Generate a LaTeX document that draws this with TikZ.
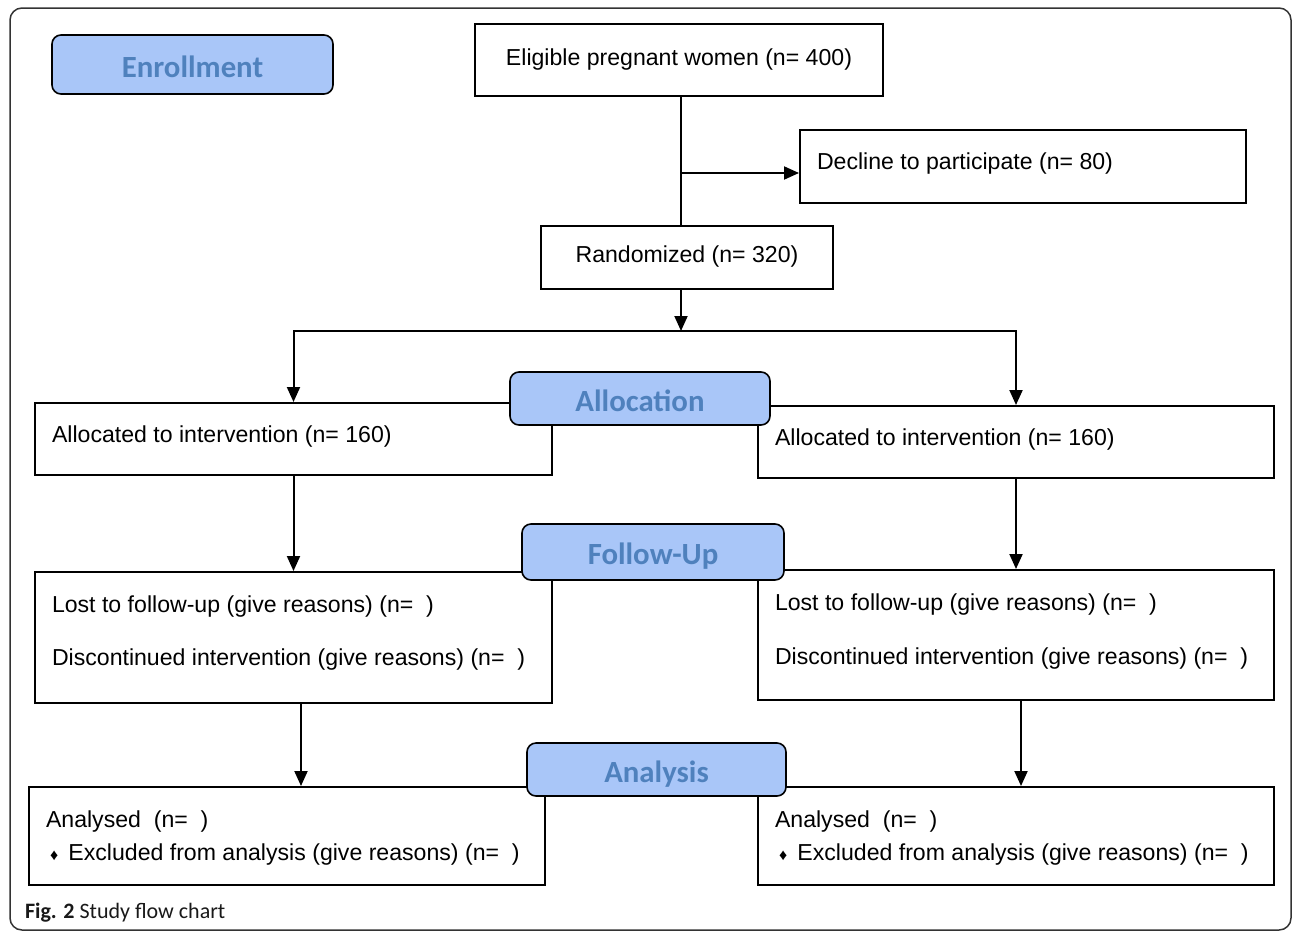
\documentclass[tikz,border=0pt]{standalone}
\usepackage{fontspec}
\setmainfont{Liberation Sans}
\newfontfamily\calibrifont{Carlito}
\usetikzlibrary{arrows.meta}
\definecolor{labfill}{RGB}{169,198,248}
\definecolor{labtext}{RGB}{79,129,189}

\begin{document}
\begin{tikzpicture}[x=1pt, y=-1pt, line width=2pt,
  box/.style={draw, line width=2pt, inner sep=0pt, font=\fontsize{23.1}{27}\selectfont},
  txt/.style={anchor=west, inner sep=0pt, font=\fontsize{23.1}{27}\selectfont},
  stage/.style={draw, line width=1.6pt, rounded corners=9pt, fill=labfill, inner sep=0pt,
    text height=25pt, text depth=0pt,
    text=labtext, font=\calibrifont\bfseries\fontsize{30.8}{34}\selectfont},
  arr/.style={-{Triangle[length=15pt, width=13pt]}}]
\useasboundingbox (0,0) rectangle (1292,932);
\draw [line width=1.5pt, black!80, rounded corners=12pt] (10,8) rectangle (1291,930);

% enrollment
\node (elig) [box, minimum width=408pt, minimum height=72pt] at (679,60) {Eligible pregnant women (n= 400)};
\node (decl) [box, minimum width=446pt, minimum height=73pt] at (1023,166.5) {};
\node (decltxt) [txt] at (816,163.5) {Decline to participate (n= 80)};
\node (rand) [box, minimum width=292pt, minimum height=63pt] at (687,257) {Randomized (n= 320)};
\coordinate (split) at (681,173);
\coordinate (fork) at (681,331);
\draw (split |- elig.south) -- (split |- rand.north);
\draw [arr] (split) -- (split -| decl.west);
\draw [arr] (split |- rand.south) -- (fork);

% allocation
\node (allocL) [box, minimum width=517pt, minimum height=72pt] at (293.5,439) {};
\node (allocLtxt) [txt] at (51,436.5) {Allocated to intervention (n= 160)};
\node (allocR) [box, minimum width=516pt, minimum height=72pt] at (1016,442) {};
\node (allocRtxt) [txt] at (774,439.5) {Allocated to intervention (n= 160)};
\draw [arr] (fork) -| (allocL.north);
\draw [arr] (fork) -| (allocR.north);

% follow-up
\node (fuL) [box, minimum width=517pt, minimum height=131pt] at (293.5,637.5) {};
\node (fuLtxt1) [txt] at (51,606.5) {Lost to follow-up (give reasons) (n=~ )};
\node (fuLtxt2) [txt] at (51,659.5) {Discontinued intervention (give reasons) (n=~ )};
\node (fuR) [box, minimum width=516pt, minimum height=130pt] at (1016,635) {};
\node (fuRtxt1) [txt] at (774,604.5) {Lost to follow-up (give reasons) (n=~ )};
\node (fuRtxt2) [txt] at (774,658.5) {Discontinued intervention (give reasons) (n=~ )};
\draw [arr] (allocL.south) -- (fuL.north);
\draw [arr] (allocR.south) -- (fuR.north);

% analysis
\node (anL) [box, minimum width=516pt, minimum height=98pt] at (287,836) {};
\node (anLtxt1) [txt] at (45,821.5) {Analysed~ (n=~ )};
\node (anLtxt2) [txt] at (49,854.5) {{\fontsize{16}{16}\selectfont ♦}\, Excluded from analysis (give reasons) (n=~ )};
\node (anR) [box, minimum width=516pt, minimum height=98pt] at (1016,836) {};
\node (anRtxt1) [txt] at (774,821.5) {Analysed~ (n=~ )};
\node (anRtxt2) [txt] at (778,854.5) {{\fontsize{16}{16}\selectfont ♦}\, Excluded from analysis (give reasons) (n=~ )};
\draw [arr] ([xshift=7.5pt]fuL.south) -- ([xshift=7.5pt]fuL.south |- anL.north);
\draw [arr] ([xshift=5pt]fuR.south) -- ([xshift=5pt]fuR.south |- anR.north);

% stage labels
\node (enroll) [stage, minimum width=281pt, minimum height=59pt] at (192.5,64.5) {Enrollment};
\node (allocation) [stage, minimum width=260pt, minimum height=53pt] at (640,398.5) {Allocation};
\node (followup) [stage, minimum width=262pt, minimum height=56pt] at (653,552) {Follow-Up};
\node (analysis) [stage, minimum width=259pt, minimum height=53pt] at (656.5,769.5) {Analysis};

\node (caption) [anchor=west, inner sep=0pt, text=black!90, font=\calibrifont\fontsize{22}{26}\selectfont] at (24,913) {\textbf{Fig. 2} Study flow chart};
\end{tikzpicture}
\end{document}
